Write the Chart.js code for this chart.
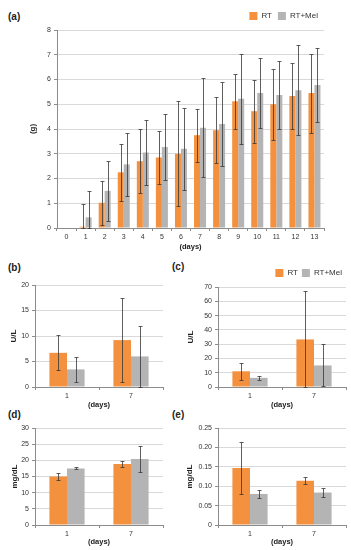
<!DOCTYPE html>
<html lang="en">

<head>
    <meta charset="utf-8" />
    <title>RT vs RT+Mel</title>
    <script src="https://cdn.jsdelivr.net/npm/chart.js"></script>
    <style>
        body {
            margin: 0;
            width: 351px;
            height: 550px;
            position: relative;
            overflow: hidden;
            background: #fff;
            font-family: "Liberation Sans", Arial, sans-serif;
        }

        .panel {
            position: absolute;
        }

        .tag {
            position: absolute;
            font-weight: bold;
            font-size: 10px;
            line-height: 12px;
            color: #222;
        }
    </style>
</head>

<body>
    <div class="tag" style="left:8px;top:11px">(a)</div>
    <div class="tag" style="left:8px;top:262px">(b)</div>
    <div class="tag" style="left:172px;top:261px">(c)</div>
    <div class="tag" style="left:8px;top:409px">(d)</div>
    <div class="tag" style="left:172px;top:409px">(e)</div>

    <div class="panel" style="left:0;top:0;width:351px;height:254px"><canvas id="chartA"></canvas></div>
    <div class="panel" style="left:0;top:262px;width:175px;height:150px"><canvas id="chartB"></canvas></div>
    <div class="panel" style="left:175px;top:262px;width:176px;height:150px"><canvas id="chartC"></canvas></div>
    <div class="panel" style="left:0;top:412px;width:175px;height:138px"><canvas id="chartD"></canvas></div>
    <div class="panel" style="left:175px;top:412px;width:176px;height:138px"><canvas id="chartE"></canvas></div>

    <script>
        // (a) weight by day
        const days = ['0', '1', '2', '3', '4', '5', '6', '7', '8', '9', '10', '11', '12', '13'];
        const rtWeight = [0, 0.05, 1.02, 2.25, 2.7, 2.85, 3.0, 3.75, 3.95, 5.12, 4.72, 5.0, 5.33, 5.45];
        const rtWeightSd = [0, 0.92, 0.88, 1.14, 1.28, 1.07, 2.13, 1.07, 1.33, 1.12, 1.27, 1.44, 1.35, 1.6];
        const melWeight = [0, 0.43, 1.5, 2.57, 3.05, 3.27, 3.2, 4.05, 4.2, 5.22, 5.45, 5.37, 5.57, 5.78];
        const melWeightSd = [0, 1.07, 1.2, 1.26, 1.31, 1.33, 1.65, 2.0, 1.7, 1.83, 1.42, 1.36, 1.83, 1.5];

        // (b)-(e) sampled on day 1 and day 7
        const sampleDays = ['1', '7'];
        const rtB = [6.7, 9.2];
        const rtBSd = [3.4, 8.3];
        const melB = [3.45, 6.0];
        const melBSd = [2.5, 6.0];

        const rtC = [11.0, 33.3];
        const rtCSd = [6.0, 33.7];
        const melC = [6.4, 15.1];
        const melCSd = [1.4, 14.7];

        const rtD = [15.0, 18.9];
        const rtDSd = [1.0, 0.9];
        const melD = [17.5, 20.4];
        const melDSd = [0.3, 3.9];

        const rtE = [0.147, 0.114];
        const rtESd = [0.066, 0.0095];
        const melE = [0.080, 0.0836];
        const melESd = [0.0095, 0.0125];

        const ORANGE = '#F4913F';
        const GREY = '#B4B4B4';
        const AXIS = '#8c8c8c';
        const FONT = '"Liberation Sans", Arial, sans-serif';

        // draws mean +/- sd whiskers over each bar
        const errorBars = {
            id: 'errorBars',
            afterDatasetsDraw(chart) {
                const ctx = chart.ctx;
                const y = chart.scales.y;
                ctx.save();
                ctx.strokeStyle = 'rgba(55,55,55,0.8)';
                ctx.lineWidth = 1;
                chart.data.datasets.forEach((ds, i) => {
                    chart.getDatasetMeta(i).data.forEach((bar, j) => {
                        const sd = ds.sd[j];
                        if (!sd) return;
                        const x = Math.round(bar.x) + 0.5;
                        const top = Math.round(y.getPixelForValue(ds.data[j] + sd)) + 0.5;
                        const bot = Math.round(y.getPixelForValue(Math.max(0, ds.data[j] - sd))) + 0.5;
                        ctx.beginPath();
                        ctx.moveTo(x, top);
                        ctx.lineTo(x, bot);
                        ctx.moveTo(x - 2, top);
                        ctx.lineTo(x + 2, top);
                        ctx.moveTo(x - 2, bot);
                        ctx.lineTo(x + 2, bot);
                        ctx.stroke();
                    });
                });
                ctx.restore();
            }
        };

        function makeChart(id, o) {
            return new Chart(document.getElementById(id), {
                type: 'bar',
                data: {
                    labels: o.labels,
                    datasets: [
                        { label: 'RT', data: o.rt, sd: o.rtSd, backgroundColor: ORANGE, categoryPercentage: o.cat, barPercentage: 1 },
                        { label: 'RT+Mel', data: o.mel, sd: o.melSd, backgroundColor: GREY, categoryPercentage: o.cat, barPercentage: 1 }
                    ]
                },
                options: {
                    responsive: true,
                    maintainAspectRatio: false,
                    animation: false,
                    layout: { padding: { top: o.padTop, right: o.padRight, left: 0, bottom: 0 } },
                    plugins: {
                        legend: {
                            display: o.legend,
                            position: 'top',
                            align: 'end',
                            labels: {
                                boxWidth: 8,
                                boxHeight: 8,
                                padding: o.legendPad || 6,
                                color: '#333',
                                font: { family: FONT, size: 8 }
                            }
                        },
                        tooltip: { enabled: false }
                    },
                    scales: {
                        x: {
                            grid: { drawOnChartArea: false, tickLength: 3, tickColor: AXIS, offset: true },
                            border: { color: AXIS },
                            ticks: { color: '#333', padding: 2, maxRotation: 0, font: { family: FONT, size: 7 } },
                            title: {
                                display: o.xTitle,
                                text: '(days)',
                                color: '#222',
                                padding: { top: 0, bottom: o.xTitlePad },
                                font: { family: FONT, size: 7.5, weight: 'bold' }
                            },
                            afterFit: s => { s.height = o.xH; }
                        },
                        y: {
                            min: 0,
                            max: o.max,
                            grid: { color: '#d9d9d9', tickLength: 3, tickColor: AXIS },
                            border: { color: AXIS },
                            ticks: {
                                stepSize: o.step,
                                color: '#333',
                                padding: 3,
                                font: { family: FONT, size: 7 },
                                callback: o.fmt || (v => v)
                            },
                            title: {
                                display: true,
                                text: o.yTitle,
                                color: '#222',
                                padding: { top: o.yTitlePad, bottom: 0 },
                                font: { family: FONT, size: 8, weight: 'bold' }
                            },
                            afterFit: s => { s.width = o.yW; }
                        }
                    }
                },
                plugins: [errorBars]
            });
        }

        makeChart('chartA', {
            labels: days, rt: rtWeight, rtSd: rtWeightSd, mel: melWeight, melSd: melWeightSd,
            cat: 0.63, max: 8, step: 1, yTitle: '(g)', yTitlePad: 28, yW: 57, xH: 26, xTitle: true, xTitlePad: 2.5,
            padTop: 6, padRight: 27, legend: true
        });
        makeChart('chartB', {
            labels: sampleDays, rt: rtB, rtSd: rtBSd, mel: melB, melSd: melBSd,
            cat: 0.55, max: 20, step: 5, yTitle: 'U/L', yTitlePad: 9, yW: 35, xH: 25, xTitle: true, xTitlePad: 2.5,
            padTop: 23, padRight: 12, legend: false
        });
        makeChart('chartC', {
            labels: sampleDays, rt: rtC, rtSd: rtCSd, mel: melC, melSd: melCSd,
            cat: 0.55, max: 70, step: 10, yTitle: 'U/L', yTitlePad: 11, yW: 43, xH: 25, xTitle: true, xTitlePad: 2.5,
            padTop: 3, padRight: 5, legend: true, legendPad: 4
        });
        makeChart('chartD', {
            labels: sampleDays, rt: rtD, rtSd: rtDSd, mel: melD, melSd: melDSd,
            cat: 0.55, max: 30, step: 5, yTitle: 'mg/dL', yTitlePad: 10, yW: 35, xH: 25, xTitle: true, xTitlePad: 3.8,
            padTop: 16, padRight: 12, legend: false
        });
        makeChart('chartE', {
            labels: sampleDays, rt: rtE, rtSd: rtESd, mel: melE, melSd: melESd,
            cat: 0.55, max: 0.25, step: 0.05, yTitle: 'mg/dL', yTitlePad: 10, yW: 43, xH: 25, xTitle: true, xTitlePad: 3.8,
            padTop: 16, padRight: 5, legend: false,
            fmt: v => (v === 0 ? '0' : v.toFixed(2))
        });
    </script>
</body>

</html>
